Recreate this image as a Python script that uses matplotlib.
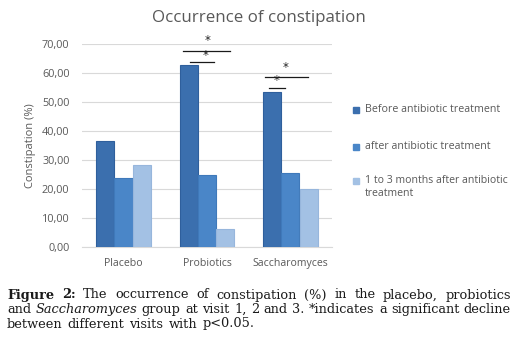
import matplotlib
matplotlib.use("Agg")
import matplotlib.pyplot as plt
import numpy as np

categories = ["Placebo", "Probiotics", "Saccharomyces"]
series_names = ["Before antibiotic treatment", "after antibiotic treatment",
                "1 to 3 months after antibiotic\ntreatment"]
before = [36.5, 62.8, 53.3]
after = [23.8, 24.8, 25.6]
later = [28.4, 6.1, 19.9]
yticks = [0, 10, 20, 30, 40, 50, 60, 70]
ytick_labels = ["0,00", "10,00", "20,00", "30,00", "40,00", "50,00", "60,00", "70,00"]

colors = ["#3b6fae", "#4a86c8", "#a3c1e4"]
edges = ["#2f5f9c", "#3f79ba", "#97b6dc"]

W, H = 531, 355
fig = plt.figure(figsize=(W / 100, H / 100), dpi=100)
ax = fig.add_axes([82 / W, 1 - 247 / H, 250 / W, 203 / H])

x = np.arange(len(categories))
bw = 0.22
for i, (vals, c, e) in enumerate(zip([before, after, later], colors, edges)):
    ax.bar(x + (i - 1) * bw, vals, bw, color=c, edgecolor=e, linewidth=0.8,
           label=series_names[i], zorder=3)

ax.set_xlim(-0.5, 2.5)
ax.set_ylim(0, 70)
ax.set_yticks(yticks)
ax.set_yticklabels(ytick_labels)
ax.yaxis.grid(True, color="#d9d9d9", linewidth=0.8, zorder=0)
ax.set_xticks(x)
ax.set_xticklabels(categories)
for s in ["top", "right", "left"]:
    ax.spines[s].set_visible(False)
ax.spines["bottom"].set_color("#d9d9d9")
ax.tick_params(axis="both", length=0, colors="#595959")
ax.tick_params(axis="y", pad=9, labelsize=7.8)
ax.tick_params(axis="x", pad=8, labelsize=7.6)
for lbl in ax.get_xticklabels() + ax.get_yticklabels():
    lbl.set_fontfamily("Open Sans")
ax.set_ylabel("Constipation (%)", fontsize=8, color="#595959", family="Open Sans", labelpad=4)

# significance markers
sig_lines = [(0.712, 1.272, 67.6), (0.792, 1.08, 63.7), (1.70, 2.212, 58.5), (1.74, 1.93, 55.0)]
sig_stars = [(1.005, 69.0), (0.98, 63.9), (1.94, 59.6), (1.833, 55.2)]
for x0, x1, yv in sig_lines:
    ax.plot([x0, x1], [yv, yv], color="#1a1a1a", linewidth=0.9, clip_on=False, zorder=4)
for xs, ys in sig_stars:
    ax.text(xs, ys, "*", ha="center", va="bottom", fontsize=8.5, color="#222222",
            clip_on=False, zorder=5)

fig.text(259 / W, 1 - 18 / H, "Occurrence of constipation", ha="center", va="center",
         fontsize=12.2, color="#595959", family="Open Sans")

# legend
leg_y = [110, 146.7, 181]
for yy, c, name in zip(leg_y, colors, series_names):
    fig.patches.append(plt.Rectangle((353 / W, 1 - (yy + 3) / H), 6 / W, 6 / H,
                                     transform=fig.transFigure, color=c, figure=fig))
    if "\n" in name:
        fig.text(365 / W, 1 - (yy - 6) / H, name, ha="left", va="top",
                 fontsize=7.6, color="#595959", family="Open Sans", linespacing=1.25)
    else:
        fig.text(365 / W, 1 - yy / H, name, ha="left", va="center",
                 fontsize=7.7, color="#595959", family="Open Sans")

# caption, justified lines
cap_lines = [
    [("Figure", "bold"), ("2:", "bold"), ("The", ""), ("occurrence", ""), ("of", ""),
     ("constipation", ""), ("(%)", ""), ("in", ""), ("the", ""), ("placebo,", ""), ("probiotics", "")],
    [("and", ""), ("Saccharomyces", "italic"), ("group", ""), ("at", ""), ("visit", ""), ("1,", ""),
     ("2", ""), ("and", ""), ("3.", ""), ("*indicates", ""), ("a", ""), ("significant", ""), ("decline", "")],
    [("between", ""), ("different", ""), ("visits", ""), ("with", ""), ("p<0.05.", "")],
]
cap_y = [295, 309.5, 324]
justify = [True, True, False]
fig.canvas.draw()
r = fig.canvas.get_renderer()
left_px, right_px = 7, 511
for words, yy, just in zip(cap_lines, cap_y, justify):
    objs = []
    for w, st in words:
        kw = dict(fontsize=9.3, family="DejaVu Serif", color="#1a1a1a", va="center", ha="left")
        if st == "bold":
            kw["fontweight"] = "bold"
        if st == "italic":
            kw["fontstyle"] = "italic"
        t = fig.text(0, 1 - yy / H, w, **kw)
        objs.append(t)
    widths = [t.get_window_extent(r).width for t in objs]
    total = sum(widths)
    if just:
        gap = (right_px - left_px - total) / (len(objs) - 1)
    else:
        gap = 5
    xp = left_px
    for t, wd in zip(objs, widths):
        t.set_x(xp / W)
        xp += wd + gap

fig.savefig("out.png", dpi=100, facecolor="white")
